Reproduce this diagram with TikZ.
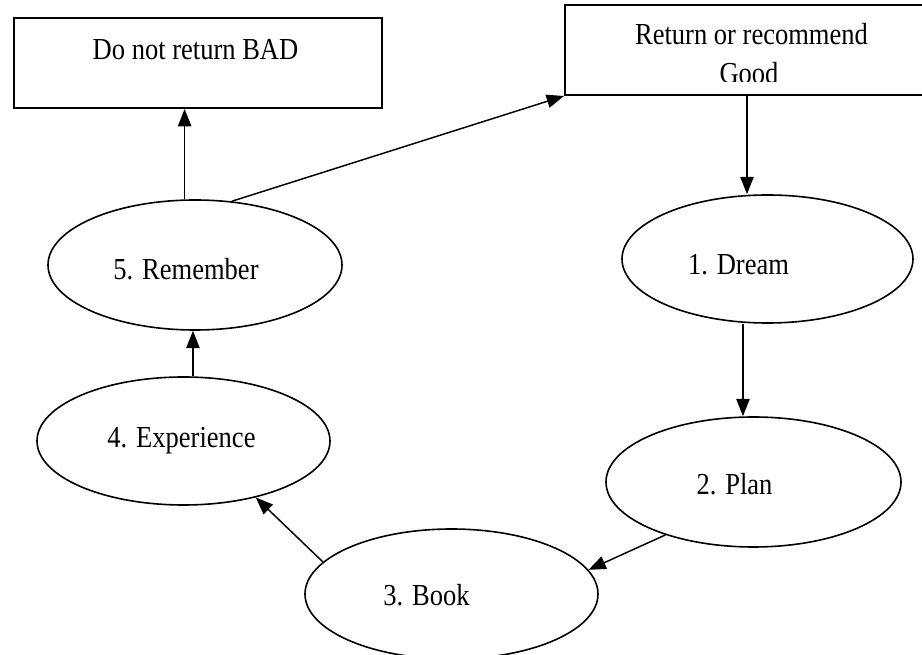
\documentclass[tikz,border=0pt]{standalone}
\usepackage{fontspec}
\setmainfont{Liberation Serif}
\usetikzlibrary{arrows.meta,shapes.geometric}
% taller-than-normal lettering used throughout the chart
\newcommand{\tallword}[1]{\scalebox{1}[1.15]{#1}}
\begin{document}
\begin{tikzpicture}[x=0.75pt,y=-0.75pt,
  stage/.style={ellipse,draw,line width=1.2pt,inner sep=0pt},
  panel/.style={rectangle,draw,line width=1.5pt,inner sep=0pt,minimum height=67.5pt},
  caption/.style={font=\fontsize{19.9}{24}\selectfont,anchor=base,inner sep=0pt},
  flow/.style={line width=1.1pt,-{Triangle[length=13pt,width=10pt]}}]
\useasboundingbox (0,0) rectangle (922,655);
\clip (0,0) rectangle (922,655);

% outcome boxes
\node[panel,minimum width=276pt] (bad) at (198,63) {};
\node[panel,minimum width=273pt] (good) at (747,50) {};

% cycle stages
\node[stage,minimum width=220.5pt,minimum height=97.5pt] (remember) at (195,265) {};
\node[stage,minimum width=219.75pt,minimum height=96pt] (experience) at (183.5,441) {};
\node[stage,minimum width=218.25pt,minimum height=96pt] (dream) at (767.5,259) {};
\node[stage,minimum width=221.25pt,minimum height=97.5pt] (plan) at (753.5,482) {};
\node[stage,minimum width=219.75pt,minimum height=97.5pt] (book) at (451.5,594) {};

% labels
\node[caption] (badtext) at (195.5,60) {\tallword{Do not return BAD}};
\node[caption] (goodtext) at (751.5,45) {\tallword{Return or recommend}};
\begin{scope}
  \clip (560,0) rectangle (922,81.5);
  \node[caption] (goodtail) at (749,84) {\tallword{Good}};
\end{scope}
\node[caption] (remembertext) at (186,280) {\tallword{5. Remember}};
\node[caption] (experiencetext) at (181.5,448) {\tallword{4. Experience}};
\node[caption] (dreamtext) at (738.5,275) {\tallword{1. Dream}};
\node[caption] (plantext) at (734.5,495) {\tallword{2. Plan}};
\node[caption] (booktext) at (426.5,606) {\tallword{3. Book}};

% connectors
\draw[flow] (remember.99) -- (remember.99 |- bad.south);
\draw[flow] (remember.60) -- (good.south west);
\draw[flow] (good.south) -- (good.south |- dream.north);
\draw[flow] ([xshift=-18.4pt]dream.south) -- ([xshift=-18.4pt]dream.south |- plan.north);
\draw[flow] (plan.211) -- (book.10);
\draw[flow] (book.166) -- (experience.322);
\draw[flow] ([xshift=7.1pt]experience.north) -- ([xshift=7.1pt]experience.north |- remember.south);
\end{tikzpicture}
\end{document}
